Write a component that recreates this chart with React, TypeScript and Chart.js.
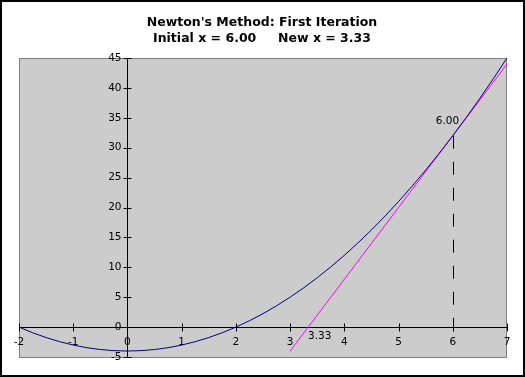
import React, { useEffect, useRef } from "react";
import { Chart, registerables } from "chart.js";

Chart.register(...registerables);

// f(x)
const curveX = [-2, -1.75, -1.5, -1.25, -1, -0.75, -0.5, -0.25, 0, 0.25, 0.5, 0.75, 1, 1.25, 1.5, 1.75, 2, 2.25, 2.5, 2.75, 3, 3.25, 3.5, 3.75, 4, 4.25, 4.5, 4.75, 5, 5.25, 5.5, 5.75, 6, 6.25, 6.5, 6.75, 7];
const curveY = [0, -0.9375, -1.75, -2.4375, -3, -3.4375, -3.75, -3.9375, -4, -3.9375, -3.75, -3.4375, -3, -2.4375, -1.75, -0.9375, 0, 1.0625, 2.25, 3.5625, 5, 6.5625, 8.25, 10.0625, 12, 14.0625, 16.25, 18.5625, 21, 23.5625, 26.25, 29.0625, 32, 35.0625, 38.25, 41.5625, 45];

// tangent line at the initial guess
const tangentX = [3, 7];
const tangentY = [-4, 44];

const xTicks = [-2, -1, 0, 1, 2, 3, 4, 5, 6, 7];
const yTicks = [-5, 0, 5, 10, 15, 20, 25, 30, 35, 40, 45];

const initialX = 6.0;
const initialY = 32;
const newX = 3.33;

const titleLines = ["Newton's Method: First Iteration", "Initial x = 6.00     New x = 3.33"];

export default function App() {
  const ref = useRef<HTMLCanvasElement>(null);

  useEffect(() => {
    const canvas = ref.current;
    if (!canvas) return;

    const decor = {
      id: "decor",
      beforeDraw(chart: any) {
        const { ctx, chartArea } = chart;
        const { left, right, top, bottom } = chartArea;
        ctx.save();
        ctx.fillStyle = "#ffffff";
        ctx.fillRect(0, 0, chart.width, chart.height);
        ctx.fillStyle = "#cccccc";
        ctx.fillRect(left, top, right - left, bottom - top);
        ctx.strokeStyle = "#808080";
        ctx.lineWidth = 1;
        ctx.strokeRect(left + 0.5, top + 0.5, right - left - 1, bottom - top);
        ctx.strokeStyle = "#000000";
        ctx.lineWidth = 2;
        ctx.strokeRect(1, 1, chart.width - 2, chart.height - 2);
        // title
        ctx.fillStyle = "#000000";
        ctx.font = "bold 12.5px 'DejaVu Sans', sans-serif";
        ctx.textAlign = "center";
        ctx.textBaseline = "alphabetic";
        ctx.fillText(titleLines[0], 262, 26);
        ctx.fillText(titleLines[1], 262, 42);
        ctx.restore();
      },
      beforeDatasetsDraw(chart: any) {
        const { ctx, chartArea, scales } = chart;
        const xs = scales.x;
        const ys = scales.y;
        const x0 = Math.round(xs.getPixelForValue(0)) + 0.5;
        const y0 = Math.round(ys.getPixelForValue(0)) + 0.5;
        ctx.save();
        ctx.strokeStyle = "#000000";
        ctx.lineWidth = 1;
        ctx.beginPath();
        ctx.moveTo(chartArea.left, y0);
        ctx.lineTo(chartArea.right, y0);
        ctx.moveTo(x0, chartArea.top);
        ctx.lineTo(x0, chartArea.bottom);
        xTicks.forEach((t) => {
          const px = Math.round(xs.getPixelForValue(t)) + 0.5;
          ctx.moveTo(px, y0 - 4);
          ctx.lineTo(px, y0 + 4);
        });
        yTicks.forEach((t) => {
          const py = Math.round(ys.getPixelForValue(t)) + 0.5;
          ctx.moveTo(x0 - 4, py);
          ctx.lineTo(x0 + 4, py);
        });
        ctx.stroke();
        ctx.fillStyle = "#000000";
        ctx.font = "10.5px 'DejaVu Sans', sans-serif";
        ctx.textAlign = "center";
        ctx.textBaseline = "middle";
        xTicks.forEach((t) => {
          ctx.fillText(String(t), xs.getPixelForValue(t), y0 + 15);
        });
        ctx.textAlign = "right";
        yTicks.forEach((t) => {
          ctx.fillText(String(t), x0 - 6, ys.getPixelForValue(t));
        });
        ctx.restore();
      },
      afterDatasetsDraw(chart: any) {
        const { ctx, scales } = chart;
        const xs = scales.x;
        const ys = scales.y;
        const px = Math.round(xs.getPixelForValue(initialX)) + 0.5;
        const pTop = ys.getPixelForValue(initialY);
        const p0 = ys.getPixelForValue(0);
        ctx.save();
        ctx.strokeStyle = "#000000";
        ctx.lineWidth = 1;
        ctx.setLineDash([13, 13]);
        ctx.beginPath();
        ctx.moveTo(px, pTop);
        ctx.lineTo(px, p0);
        ctx.stroke();
        ctx.setLineDash([]);
        ctx.fillStyle = "#000000";
        ctx.font = "10.5px 'DejaVu Sans', sans-serif";
        ctx.textBaseline = "middle";
        ctx.textAlign = "center";
        ctx.fillText(initialX.toFixed(2), px - 6, pTop - 14);
        ctx.textAlign = "left";
        ctx.fillText(newX.toFixed(2), xs.getPixelForValue(newX), p0 + 9);
        ctx.restore();
      },
    };

    const chart = new Chart(canvas, {
      type: "scatter",
      data: {
        datasets: [
          {
            label: "f(x)",
            data: curveX.map((x, i) => ({ x, y: curveY[i] })),
            showLine: true,
            borderColor: "#000080",
            borderWidth: 1,
            pointRadius: 0,
            fill: false,
            tension: 0,
          },
          {
            label: "Tangent",
            data: tangentX.map((x, i) => ({ x, y: tangentY[i] })),
            showLine: true,
            borderColor: "#ff00ff",
            borderWidth: 1,
            pointRadius: 0,
            fill: false,
          },
        ],
      },
      options: {
        responsive: false,
        animation: false,
        devicePixelRatio: 1,
        layout: { padding: { left: 19, right: 18, top: 58, bottom: 20 } },
        plugins: { legend: { display: false }, tooltip: { enabled: false }, title: { display: false } },
        scales: {
          x: { type: "linear", min: -2, max: 7, display: false },
          y: { type: "linear", min: -5, max: 45, display: false },
        },
      },
      plugins: [decor],
    } as any);

    return () => chart.destroy();
  }, []);

  return (
    <div style={{ position: "absolute", left: 0, top: 0, width: 525, height: 377 }}>
      <canvas ref={ref} width={525} height={377} style={{ width: 525, height: 377, display: "block" }} />
    </div>
  );
}
